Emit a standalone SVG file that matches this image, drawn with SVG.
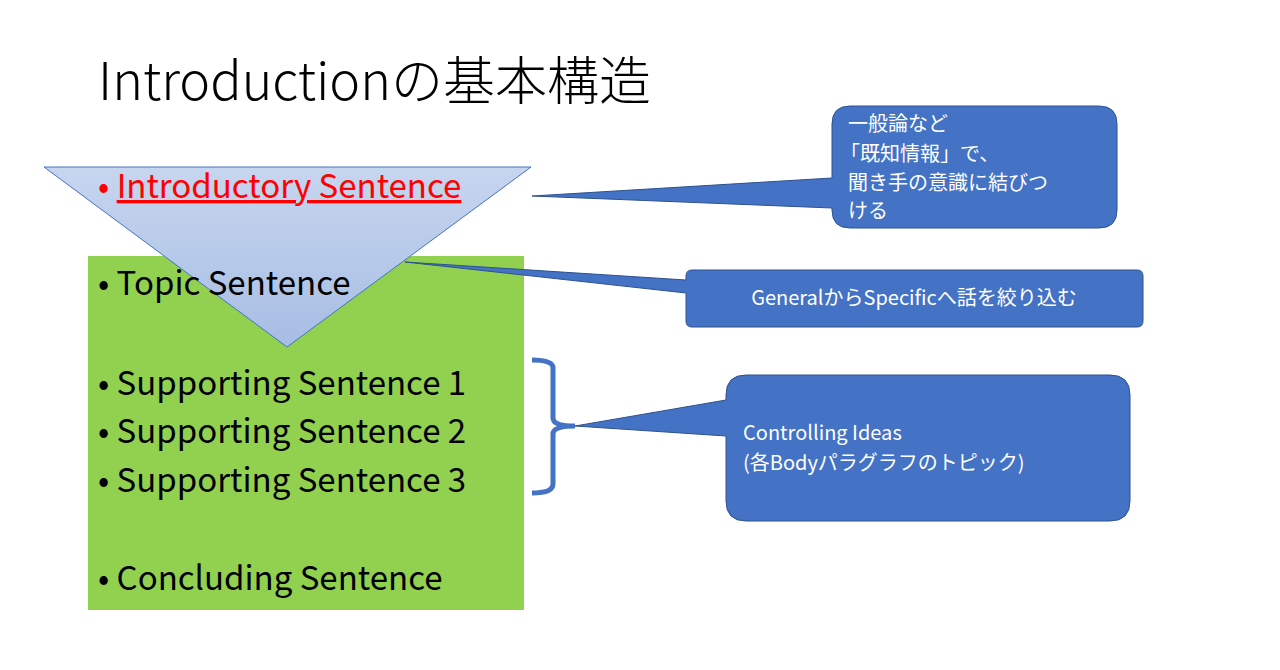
<svg xmlns="http://www.w3.org/2000/svg" width="1280" height="670" viewBox="0 0 1280 670">
<defs>
<linearGradient id="g" x1="0" y1="0" x2="0" y2="1"><stop offset="0" stop-color="#c7d6ef"/><stop offset="1" stop-color="#a6bde3"/></linearGradient>
<style>
text{font-family:"Noto Sans CJK JP","Noto Sans",sans-serif}
.b{font-size:33px;fill:#000}
.c{fill:#4472c4;stroke:#2f528f;stroke-width:1}
.w{font-size:20px;fill:#fff}
</style>
</defs>
<rect width="1280" height="670" fill="#fff"/>
<text x="98" y="100" font-size="52" fill="#000" font-weight="300">Introductionの基本構造</text>
<g id="body"><rect x="88" y="256" width="436" height="354" fill="#92d050"/></g>
<g id="funnel"><polygon points="44,167 531,167 287,347" fill="url(#g)" stroke="#4472c4" stroke-width="1"/></g>
<g id="bullets">
<text x="98" y="198" font-size="33" fill="#ff0000">• <tspan text-decoration="underline">Introductory Sentence</tspan></text>
<text class="b" x="98" y="295">• Topic Sentence</text>
<text class="b" x="98" y="395">• Supporting Sentence 1</text>
<text class="b" x="98" y="443">• Supporting Sentence 2</text>
<text class="b" x="98" y="492">• Supporting Sentence 3</text>
<text class="b" x="98" y="590">• Concluding Sentence</text>
</g>
<g id="connectors">
<path d="M532,360 Q553,360 553,368 L553,418 Q553,426 575,426 Q553,426 553,434 L553,484 Q553,493 532,493" fill="none" stroke="#4472c4" stroke-width="5"/>
</g>
<g id="callout1"><path class="c" d="M850,106 H1099 Q1117,106 1117,124 V210 Q1117,228 1099,228 H850 Q832,228 832,210 V208 L532,196 L832,178 V124 Q832,106 850,106 Z"/>
<text class="w" x="848" y="131">一般論など</text><text class="w" x="840" y="161">「既知情報」で、</text><text class="w" x="848" y="190">聞き手の意識に結びつ</text><text class="w" x="848" y="218">ける</text></g>
<g id="callout2"><path class="c" d="M692,270 H1137 Q1143,270 1143,276 V321 Q1143,327 1137,327 H692 Q686,327 686,321 V293 L405,262 L686,280 V276 Q686,270 692,270 Z"/>
<text class="w" x="914" y="305" text-anchor="middle">GeneralからSpecificへ話を絞り込む</text></g>
<g id="callout3"><path class="c" d="M746,375 H1110 Q1130,375 1130,395 V501 Q1130,521 1110,521 H746 Q726,521 726,501 V436 L575,426 L726,400 V395 Q726,375 746,375 Z"/>
<text class="w" x="743" y="440">Controlling Ideas</text><text class="w" x="743" y="470">(各Bodyパラグラフのトピック)</text></g>
</svg>
